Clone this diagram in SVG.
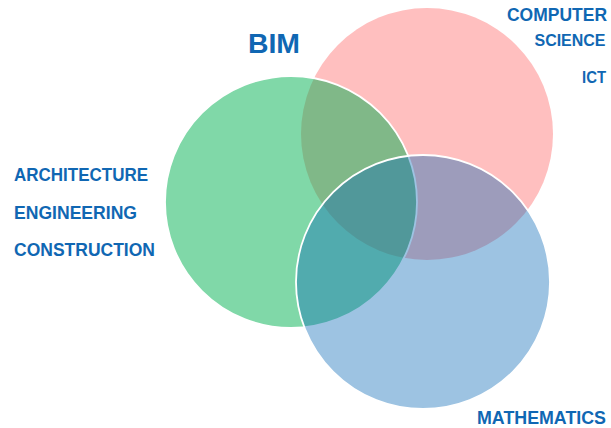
<svg xmlns="http://www.w3.org/2000/svg" width="611" height="428" viewBox="0 0 611 428">
  <style>
    .lbl { font-family: "Liberation Sans", Arial, sans-serif; font-weight: bold; fill: #1067B3; font-size: 19px; }
    .big { font-size: 27px; }
    .rt { font-size: 17.5px; }
    .rs { font-size: 17px; }
  </style>
  <rect width="611" height="428" fill="#ffffff"/>
  <g id="computer-science">
    <circle cx="427" cy="134" r="126" fill="#FFBFBF"/>
  </g>
  <g id="bim">
    <circle cx="291" cy="202" r="126" fill="#01B151" fill-opacity="0.5" stroke="#ffffff" stroke-width="1.8"/>
  </g>
  <g id="mathematics">
    <circle cx="423" cy="282" r="127" fill="#0A69B6" fill-opacity="0.4" stroke="#ffffff" stroke-width="1.8"/>
  </g>
  <g id="connectors"></g>
  <g id="labels">
    <text class="lbl big" x="248" y="53" textLength="52" lengthAdjust="spacingAndGlyphs">BIM</text>
    <text class="lbl" x="14" y="181" textLength="134" lengthAdjust="spacingAndGlyphs">ARCHITECTURE</text>
    <text class="lbl" x="14" y="219" textLength="123" lengthAdjust="spacingAndGlyphs">ENGINEERING</text>
    <text class="lbl" x="14" y="256" textLength="141" lengthAdjust="spacingAndGlyphs">CONSTRUCTION</text>
    <text class="lbl rt" x="507" y="21" textLength="100" lengthAdjust="spacingAndGlyphs">COMPUTER</text>
    <text class="lbl rs" x="534.5" y="46" textLength="71" lengthAdjust="spacingAndGlyphs">SCIENCE</text>
    <text class="lbl rs" x="582" y="83" textLength="24" lengthAdjust="spacingAndGlyphs">ICT</text>
    <text class="lbl rt" x="477" y="424" textLength="129" lengthAdjust="spacingAndGlyphs">MATHEMATICS</text>
  </g>
</svg>
